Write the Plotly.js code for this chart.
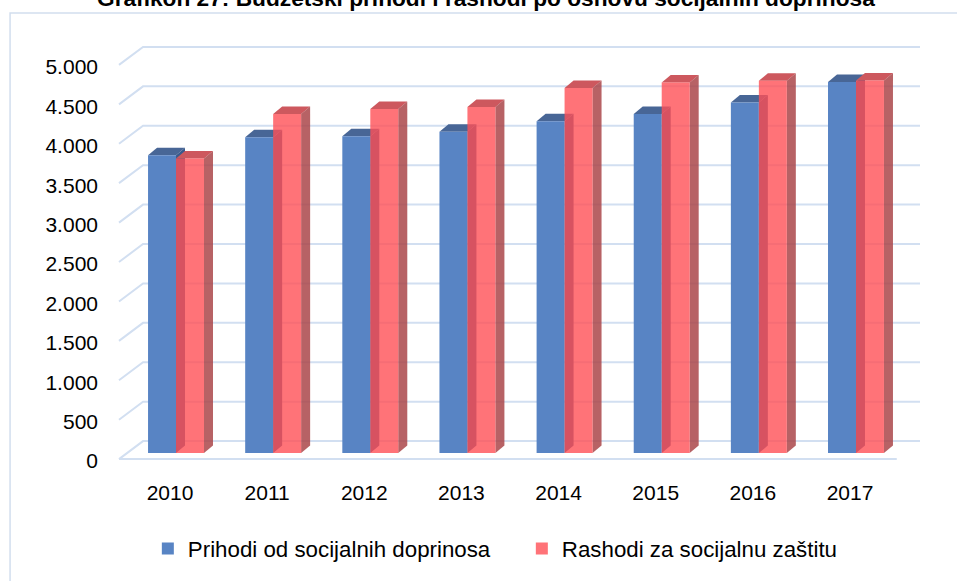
<!DOCTYPE html>
<html><head><meta charset="utf-8">
<script src="https://cdn.plot.ly/plotly-3.0.1.min.js"></script>
<style>html,body{margin:0;padding:0;background:#fff}#chart{width:957px;height:581px}</style>
</head><body><div id="chart"></div>
<script>
// ---- data ----
const years = ['2010', '2011', '2012', '2013', '2014', '2015', '2016', '2017'];
const prihodi = [3779, 4006, 4019, 4075, 4208, 4302, 4448, 4706];
const rashodi = [3737, 4302, 4365, 4390, 4630, 4701, 4722, 4726];
const yTicks = [0, 500, 1000, 1500, 2000, 2500, 3000, 3500, 4000, 4500, 5000];
const seriesNames = ['Prihodi od socijalnih doprinosa', 'Rashodi za socijalnu zaštitu'];
const titleText = 'Grafikon 27: Budžetski prihodi i rashodi po osnovu socijalnih doprinosa';

// ---- style ----
const FONT = 'Liberation Sans, Arial, sans-serif';
const BLUE = 'rgb(88,132,196)', BLUE_TOP = 'rgb(72,102,150)', BLUE_SIDE = 'rgb(58,90,140)';
const RED = 'rgba(255,80,86,0.8)', RED_TOP = 'rgb(205,88,94)', RED_SIDE = 'rgba(170,70,74,0.85)';
const GRID = 'rgb(210,223,241)';
const W = 0.288;          // bar width (category units)
const DX = 0.0927;        // depth in x (category units)
const DYPX = 7.5;         // depth in y (pixels)
const DYD = 95;           // depth in y (data units)

const idx = years.map((_, i) => i);

const traces = [
  {type: 'bar', name: seriesNames[0], x: idx, y: prihodi, width: W, offset: -W,
   marker: {color: BLUE, line: {width: 0}}, hoverinfo: 'y'},
  {type: 'bar', name: seriesNames[1], x: idx, y: rashodi, width: W, offset: 0,
   marker: {color: RED, line: {width: 0}}, hoverinfo: 'y'}
];

const shapes = [];
// perspective grid (back wall + left wall diagonals)
yTicks.forEach(t => {
  shapes.push({type: 'path', xref: 'paper', yref: 'y', ysizemode: 'pixel', yanchor: t,
    path: 'M0,-6 L0.03,12 L1,12', line: {color: GRID, width: 2}, layer: 'below'});
});
shapes.push({type: 'path', xref: 'paper', yref: 'y', ysizemode: 'pixel', yanchor: yTicks[0],
  path: 'M0,-6 L0.971,-6', line: {color: GRID, width: 2}, layer: 'below'});

// 3D faces of bars
[[prihodi, -W, BLUE_TOP, BLUE_SIDE], [rashodi, 0, RED_TOP, RED_SIDE]].forEach(([vals, off, cTop, cSide]) => {
  vals.forEach((v, i) => {
    const x0 = i + off, x1 = x0 + W;
    shapes.push({type: 'path', xref: 'x', yref: 'y', ysizemode: 'pixel', yanchor: v,
      path: `M${x0},0 L${x1},0 L${x1 + DX},${DYPX} L${x0 + DX},${DYPX} Z`,
      fillcolor: cTop, line: {width: 0}, layer: 'between'});
    shapes.push({type: 'path', xref: 'x', yref: 'y',
      path: `M${x1},0 L${x1},${v} L${x1 + DX},${v + DYD} L${x1 + DX},${DYD} Z`,
      fillcolor: cSide, line: {width: 0}, layer: 'between'});
  });
});
// outer chart border
shapes.push({type: 'rect', xref: 'paper', yref: 'paper', x0: -0.136, x1: 1.2, y0: -0.5, y1: 1.063,
  line: {color: 'rgb(210,222,238)', width: 1.5}, fillcolor: 'rgba(0,0,0,0)', layer: 'below'});

const layout = {
  width: 957, height: 581,
  margin: {l: 119, r: 37, t: 40, b: 111},
  paper_bgcolor: '#fff', plot_bgcolor: 'rgba(0,0,0,0)',
  font: {family: FONT, size: 21, color: '#000'},
  separators: ',.',
  showlegend: true,
  barmode: 'overlay',
  xaxis: {range: [-0.587, 7.659], tickmode: 'array', tickvals: idx, ticktext: years,
    showgrid: false, zeroline: false, showline: false, ticks: '',
    ticklabelshift: -6, ticklabelstandoff: 10, fixedrange: true},
  yaxis: {range: [-189, 5240], tickmode: 'array', tickvals: yTicks, tickformat: ',d',
    showgrid: false, zeroline: false, showline: false, ticks: '',
    ticklabelshift: 8, ticklabelstandoff: 20, fixedrange: true},
  legend: {orientation: 'h', x: 0.036, xanchor: 'left', y: -0.188, yanchor: 'middle',
    entrywidth: 329, entrywidthmode: 'pixels',
    font: {family: FONT, size: 22.3, color: '#000'}, traceorder: 'normal', bgcolor: 'rgba(0,0,0,0)'},
  annotations: [{text: '<b>' + titleText + '</b>', xref: 'paper', yref: 'paper',
    x: 0.458, y: 1.0977, xanchor: 'center', yanchor: 'middle', showarrow: false,
    font: {family: FONT, size: 22.7, color: '#000'}}],
  shapes: shapes
};

Plotly.newPlot('chart', traces, layout, {displayModeBar: false, staticPlot: true});
</script>
</body></html>
